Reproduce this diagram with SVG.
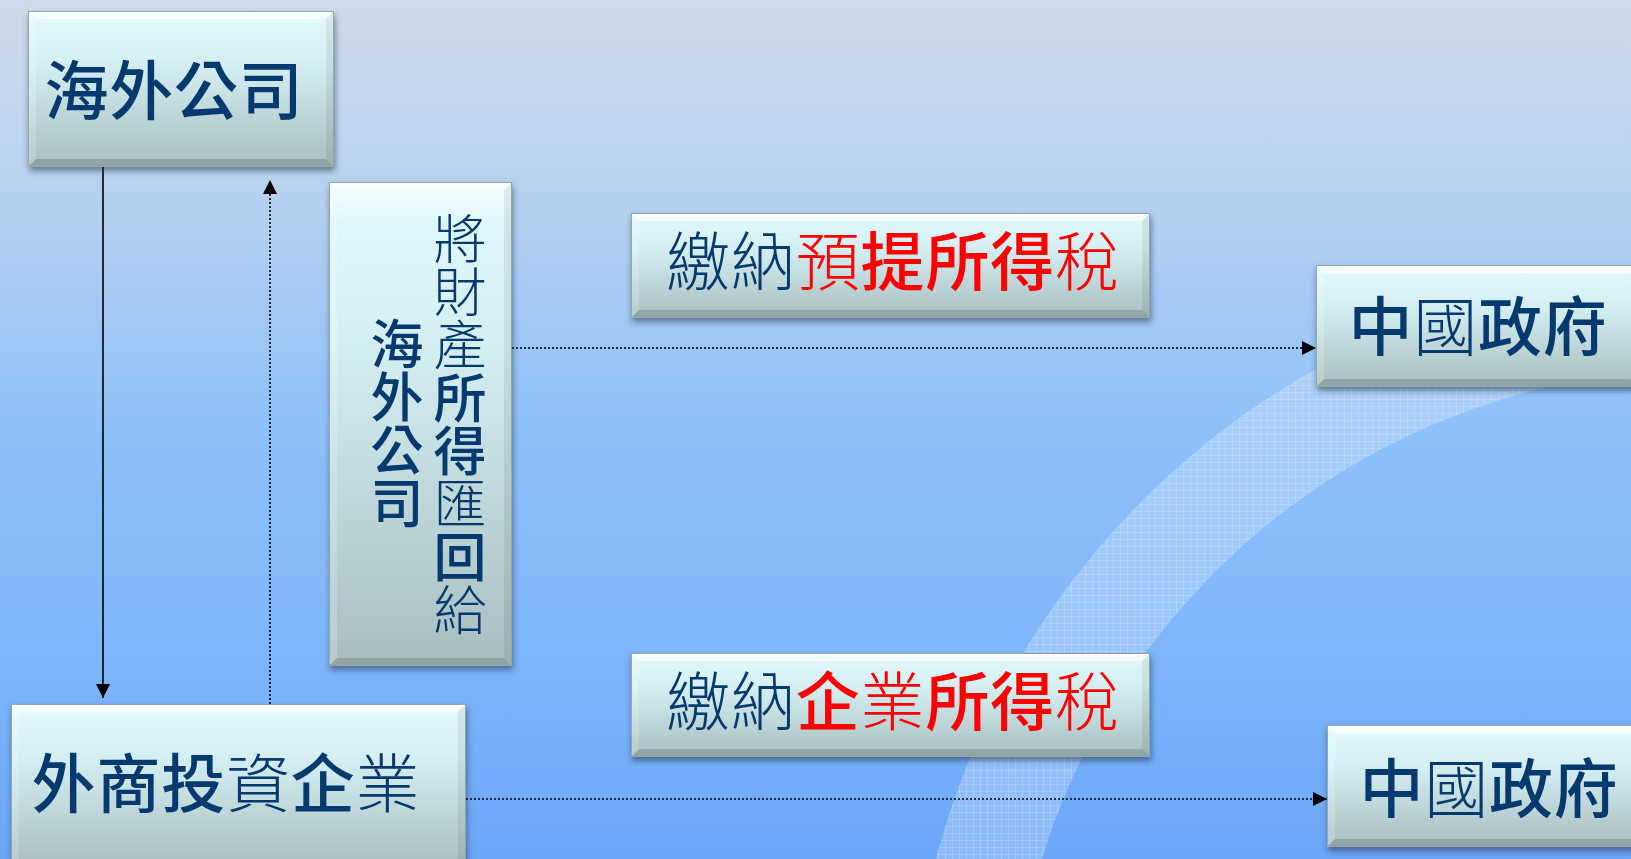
<svg xmlns="http://www.w3.org/2000/svg" width="1631" height="859" viewBox="0 0 1631 859">
<defs>
<linearGradient id="bg" x1="0" y1="0" x2="0" y2="1">
<stop offset="0" stop-color="#d0dbea"/>
<stop offset="0.25" stop-color="#b4d0f1"/>
<stop offset="0.5" stop-color="#8ec0f9"/>
<stop offset="0.75" stop-color="#7fb6fb"/>
<stop offset="1" stop-color="#6ca6f7"/>
</linearGradient>
<linearGradient id="gBody" x1="0" y1="0" x2="0" y2="1">
<stop offset="0" stop-color="#f6feff"/>
<stop offset="0.08" stop-color="#e0f7fa"/>
<stop offset="0.35" stop-color="#d3eef1"/>
<stop offset="1" stop-color="#a8bdbf"/>
</linearGradient>
<pattern id="grid" width="7" height="7" patternUnits="userSpaceOnUse">
<rect width="7" height="7" fill="#ffffff" fill-opacity="0.22"/>
<path d="M0 0.5H7M0.5 0V7" stroke="#ffffff" stroke-opacity="0.18" stroke-width="1"/>
</pattern>
<filter id="shadow" x="-10%" y="-10%" width="120%" height="130%">
<feDropShadow dx="1" dy="4" stdDeviation="3" flood-color="#1c2e45" flood-opacity="0.55"/>
</filter>
<marker id="ah" markerUnits="userSpaceOnUse" markerWidth="14" markerHeight="14" refX="14" refY="7" orient="auto">
<path d="M0 0L14 7L0 14Z" fill="#000" stroke="none"/>
</marker>
<style>
.body{fill:url(#gBody);filter:url(#shadow);}
.edge{fill:none;stroke:#93a8ab;stroke-width:1;}
.bt{fill:#ffffff;fill-opacity:0.6;}
.bl{fill:#ffffff;fill-opacity:0.2;}
.br{fill:#000000;fill-opacity:0.07;}
.bb{fill:#000000;fill-opacity:0.14;}
.t{font-family:"Noto Sans CJK TC","Noto Sans CJK SC",sans-serif;font-size:64px;fill:#063a6e;dominant-baseline:central;text-anchor:middle;letter-spacing:0.8px;}
.v{font-size:53px;letter-spacing:0;writing-mode:vertical-rl;}
.b{font-weight:500;}
.l{font-weight:300;}
.r{fill:#ff0000;}
.solid{stroke:#000;stroke-width:1.6;fill:none;}
.dot{stroke:#000;stroke-width:1.6;stroke-dasharray:2 2;fill:none;}
</style>
</defs>

<rect width="1631" height="859" fill="url(#bg)"/>
<path d="M909 1064a797 797 0 1 0 1594 0a797 797 0 1 0 -1594 0ZM1011 1064a695 695 0 1 0 1390 0a695 695 0 1 0 -1390 0Z" fill="url(#grid)" fill-rule="evenodd"/>

<g id="connectors">
<line class="solid" x1="103" y1="167" x2="103" y2="698" marker-end="url(#ah)"/>
<line class="dot" x1="270" y1="704" x2="270" y2="180" marker-end="url(#ah)"/>
<line class="dot" x1="512" y1="348" x2="1316" y2="348" marker-end="url(#ah)"/>
<line class="dot" x1="466" y1="799" x2="1327" y2="799" marker-end="url(#ah)"/>
</g>

<g id="n-overseas">
<rect class="body" x="28" y="11" width="306" height="156"/>
<polygon class="bt" points="28,11 334,11 326,19 36,19"/>
<polygon class="bl" points="28,11 36,19 36,159 28,167"/>
<polygon class="br" points="334,11 334,167 326,159 326,19"/>
<polygon class="bb" points="28,167 36,159 326,159 334,167"/>
<rect class="edge" x="28.5" y="11.5" width="305" height="155"/>
<text class="t b" x="174" y="86">海外公司</text>
</g>

<g id="n-remit">
<rect class="body" x="329" y="182" width="183" height="484"/>
<polygon class="bt" points="329,182 512,182 504,190 337,190"/>
<polygon class="bl" points="329,182 337,190 337,658 329,666"/>
<polygon class="br" points="512,182 512,666 504,658 504,190"/>
<polygon class="bb" points="329,666 337,658 504,658 512,666"/>
<rect class="edge" x="329.5" y="182.5" width="182" height="483"/>
<text class="t v" x="460" y="424"><tspan class="l">將財產</tspan><tspan class="b">所得</tspan><tspan class="l">匯</tspan><tspan class="b">回</tspan><tspan class="l">給</tspan></text>
<text class="t v b" x="397" y="423">海外公司</text>
</g>

<g id="n-withholding">
<rect class="body" x="631" y="213" width="519" height="105"/>
<polygon class="bt" points="631,213 1150,213 1142,221 639,221"/>
<polygon class="bl" points="631,213 639,221 639,310 631,318"/>
<polygon class="br" points="1150,213 1150,318 1142,310 1142,221"/>
<polygon class="bb" points="631,318 639,310 1142,310 1150,318"/>
<rect class="edge" x="631.5" y="213.5" width="518" height="104"/>
<text class="t" x="893" y="257"><tspan class="l">繳納</tspan><tspan class="l r">預</tspan><tspan class="b r">提所得</tspan><tspan class="l r">稅</tspan></text>
</g>

<g id="n-gov1">
<rect class="body" x="1316" y="265" width="322" height="122"/>
<polygon class="bt" points="1316,265 1638,265 1630,273 1324,273"/>
<polygon class="bl" points="1316,265 1324,273 1324,379 1316,387"/>
<polygon class="bb" points="1316,387 1324,379 1630,379 1638,387"/>
<rect class="edge" x="1316.5" y="265.5" width="321" height="121"/>
<text class="t" x="1478" y="322"><tspan class="b">中</tspan><tspan class="l">國</tspan><tspan class="b">政府</tspan></text>
</g>

<g id="n-enterprise-tax">
<rect class="body" x="631" y="653" width="519" height="104"/>
<polygon class="bt" points="631,653 1150,653 1142,661 639,661"/>
<polygon class="bl" points="631,653 639,661 639,749 631,757"/>
<polygon class="br" points="1150,653 1150,757 1142,749 1142,661"/>
<polygon class="bb" points="631,757 639,749 1142,749 1150,757"/>
<rect class="edge" x="631.5" y="653.5" width="518" height="103"/>
<text class="t" x="893" y="697"><tspan class="l">繳納</tspan><tspan class="b r">企</tspan><tspan class="l r">業</tspan><tspan class="b r">所得</tspan><tspan class="l r">稅</tspan></text>
</g>

<g id="n-fie">
<rect class="body" x="11" y="704" width="455" height="162"/>
<polygon class="bt" points="11,704 466,704 458,712 19,712"/>
<polygon class="bl" points="11,704 19,712 19,866 11,866"/>
<polygon class="br" points="466,704 466,866 458,866 458,712"/>
<rect class="edge" x="11.5" y="704.5" width="454" height="161"/>
<text class="t" x="226" y="779"><tspan class="b">外商投</tspan><tspan class="l">資</tspan><tspan class="b">企</tspan><tspan class="l">業</tspan></text>
</g>

<g id="n-gov2">
<rect class="body" x="1327" y="725" width="325" height="122"/>
<polygon class="bt" points="1327,725 1652,725 1644,733 1335,733"/>
<polygon class="bl" points="1327,725 1335,733 1335,839 1327,847"/>
<polygon class="bb" points="1327,847 1335,839 1644,839 1652,847"/>
<rect class="edge" x="1327.5" y="725.5" width="324" height="121"/>
<text class="t" x="1489" y="784"><tspan class="b">中</tspan><tspan class="l">國</tspan><tspan class="b">政府</tspan></text>
</g>
</svg>
